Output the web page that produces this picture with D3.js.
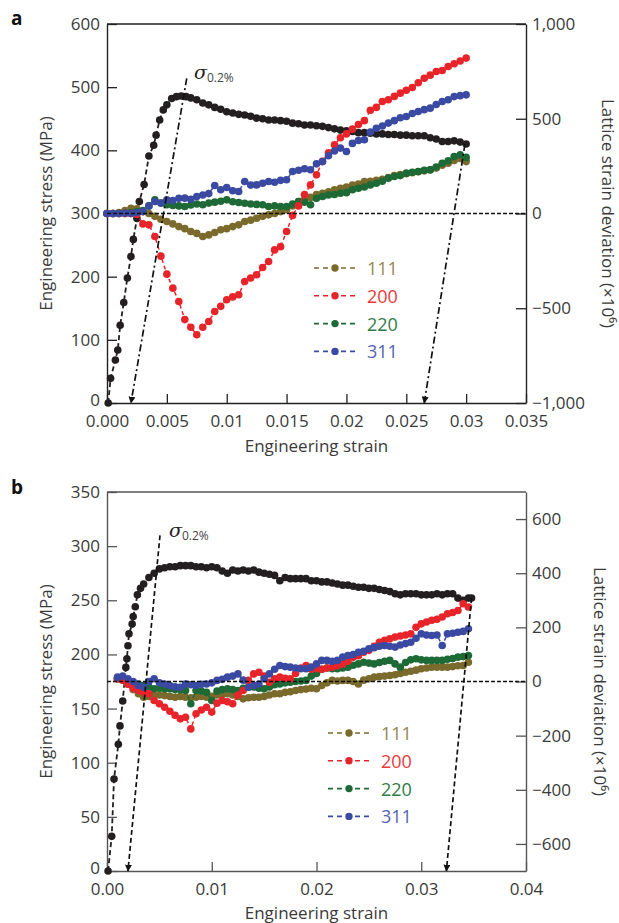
<!DOCTYPE html>
<html><head><meta charset="utf-8">
<script src="https://cdn.jsdelivr.net/npm/d3@7"></script>
<style>
body{margin:0;background:#fff}
svg{display:block}
text{font-family:"Open Sans",sans-serif}
</style>
</head><body>
<svg id="c" width="619" height="923"></svg>
<script>
// ---------- Panel a data ----------
const strainA = [0,.0005,.001,.0015,.002,.0025,.003,.0035,.004,.0045,.005,.0055,.006,.0065,.007,.0075,.008,.0085,.009,.0095,.01,.0105,.011,.0115,.012,.0125,.013,.0135,.014,.0145,.015,.0155,.016,.0165,.017,.0175,.018,.0185,.019,.0195,.02,.0205,.021,.0215,.022,.0225,.023,.0235,.024,.0245,.025,.0255,.026,.0265,.027,.0275,.028,.0285,.029,.0295,.03];
const a111 = [0,0,5,15,28,25,10,0,-15,-30,-42,-55,-69,-80,-95,-105,-121,-113,-100,-86,-80,-69,-60,-42,-35,-25,-15,-7,0,10,20,40,63,75,85,100,107,115,125,133,140,150,155,169,170,175,180,190,200,205,210,215,220,225,230,240,255,265,280,290,274];
const a200 = [0,0,0,0,0,-5,-55,-60,-121,-225,-320,-394,-464,-560,-600,-640,-600,-570,-517,-490,-455,-440,-429,-359,-340,-323,-285,-253,-192,-175,-95,-10,40,100,151,204,275,320,363,400,420,445,470,490,545,560,591,600,618,635,650,665,690,714,730,749,755,776,790,805,820];
const a220 = [0,0,0,0,5,10,15,40,72,55,46,42,40,37,45,50,46,55,60,65,72,62,58,54,50,48,46,37,40,37,37,50,63,60,46,80,90,98,100,107,110,125,133,140,151,160,170,186,195,200,213,218,222,228,231,245,265,278,301,310,296];
const a311 = [0,0,0,2,0,5,10,40,63,55,72,68,80,81,75,90,98,105,148,125,137,120,116,169,150,151,160,169,165,175,178,222,228,236,231,262,274,305,330,345,327,370,385,389,430,450,462,477,490,505,512,528,538,548,556,575,591,600,617,622,626];
const stressStrainA = [0.0001,0.0003,0.0007,0.0009,0.0011,0.0014,0.0017,0.002,0.0022,0.0025,0.0027,0.0031,0.0035,0.0039,0.0041,0.0044,0.0047,0.005,0.0054,0.0058,0.0062,0.0066,0.007,0.0075,0.008,0.0085,0.009,0.0095,0.01,0.0105,0.011,0.0115,0.012,0.0125,0.013,0.0135,0.014,0.0145,0.015,0.0155,0.016,0.0165,0.017,0.0175,0.018,0.0185,0.019,0.0195,0.02,0.0205,0.021,0.0215,0.022,0.0225,0.023,0.0235,0.024,0.0245,0.025,0.0255,0.026,0.0265,0.027,0.0275,0.028,0.0285,0.029,0.0295,0.03];
const stressA = [0,39,68,84,123,159,198,232,259,292,319,346,391,408,424,448,464,472,482,485,486,485,483,480,475,472,468,465,461,459,457,456,454,451,450,448,448,447,446,443,442,440,440,439,438,436,434,432,431,430,428,428,427,426,426,425,425,424,424,423,423,423,420,418,414,414,415,413,410];
const offsetLineA = [[0.00666,514],[0.002,0]];
const unloadLineA = [[0.0299,410],[0.0265,0]];
const xTicksA = [0,0.005,0.01,0.015,0.02,0.025,0.03,0.035];
const xLabelsA = ["0.000","0.005","0.01","0.015","0.02","0.025","0.03","0.035"];
const yTicksA = [0,100,200,300,400,500,600];
const yRTicksA = [-1000,-500,0,500,1000];
const yRLabelsA = ["\u22121,000","\u2212500","0","500","1,000"];

// ---------- Panel b data ----------
const strainB = [.001,.0015,.002,.0025,.003,.0035,.004,.0045,.005,.0055,.006,.0065,.007,.0075,.008,.0085,.009,.0095,.01,.0105,.011,.0115,.012,.0125,.013,.0135,.014,.0145,.015,.0155,.016,.0165,.017,.0175,.018,.0185,.019,.0195,.02,.0205,.021,.0215,.022,.0225,.023,.0235,.024,.0245,.025,.0255,.026,.0265,.027,.0275,.028,.0285,.029,.0295,.03,.0305,.031,.0315,.032,.0325,.033,.0335,.034,.0345];
const b111 = [10,5,-10,-30,-45,-58,-55,-52,-50,-52,-55,-58,-55,-58,-60,-58,-55,-58,-55,-50,-48,-45,-50,-55,-64,-60,-58,-58,-55,-50,-45,-45,-40,-38,-33,-30,-28,-25,-27,-15,-5,4,2,4,4,0,-9,5,10,16,18,20,22,25,30,34,38,42,47,50,53,53,53,53,55,58,59,71];
const b200 = [10,5,-10,-25,-33,-40,-45,-70,-82,-95,-110,-125,-138,-132,-175,-119,-105,-95,-113,-80,-70,-75,-82,-50,-33,4,28,34,20,-3,10,16,12,10,30,50,59,45,47,45,50,53,58,65,75,90,95,108,115,130,145,152,158,164,168,172,176,200,213,220,226,230,238,250,255,262,287,275];
const b220 = [10,15,5,-5,-9,-15,-20,-27,-25,-27,-27,-30,-30,-33,-82,-33,-35,-40,-70,-35,-30,-27,-30,-33,-25,-21,-20,-25,-27,-20,-12,-9,-5,-3,0,2,4,20,30,45,50,47,47,50,53,60,65,71,68,65,70,75,78,65,53,70,80,84,80,78,78,78,78,82,85,90,92,96];
const b311 = [16,20,10,0,-15,-21,0,10,-5,-9,-15,-20,-21,-9,-12,-15,-10,-9,-5,4,8,16,20,28,5,-21,-15,-9,10,28,45,59,55,53,50,47,47,53,65,78,78,75,78,90,96,100,108,112,121,125,130,133,130,127,135,140,145,160,176,172,170,172,133,176,178,182,185,195];
const stressStrainB = [0.0001,0.00045,0.00067,0.00108,0.00124,0.0015,0.0018,0.0019,0.002,0.0021,0.0024,0.0025,0.0027,0.0029,0.0032,0.0035,0.004,0.0045,0.005,0.0055,0.006,0.0065,0.007,0.0075,0.008,0.0085,0.009,0.0095,0.01,0.0105,0.011,0.0115,0.012,0.0125,0.013,0.0135,0.014,0.0145,0.015,0.0155,0.016,0.0165,0.017,0.0175,0.018,0.0185,0.019,0.0195,0.02,0.0205,0.021,0.0215,0.022,0.0225,0.023,0.0235,0.024,0.0245,0.025,0.0255,0.026,0.0265,0.027,0.0275,0.028,0.0285,0.029,0.0295,0.03,0.0305,0.031,0.0315,0.032,0.0325,0.033,0.0335,0.034,0.0345,0.0348];
const stressB = [0,32,85,117,134,157,188,196,208,219,228,235,244,255,261,265,271,275,279,280,281,281,282,282,282,281,281,280,281,280,277,275,278,277,278,277,278,276,275,274,273,268,271,270,270,270,270,268,268,267,267,266,265,264,264,263,262,262,261,261,260,259,258,256,255,256,256,256,255,255,255,256,255,256,256,252,250,252,252];
const offsetLineB = [[0.00506,310],[0.002,0]];
const unloadLineB = [[0.0348,252],[0.0324,0]];
const xTicksB = [0,0.01,0.02,0.03,0.04];
const xLabelsB = ["0.00","0.01","0.02","0.03","0.04"];
const yTicksB = [0,50,100,150,200,250,300,350];
const yRTicksB = [-600,-400,-200,0,200,400,600];
const yRLabelsB = ["\u2212600","\u2212400","\u2212200","0","200","400","600"];

// ---------- Legend / styling ----------
const seriesNames = ["111","200","220","311"];
const dotColors = {"111":"#7a6a2c","200":"#e8242b","220":"#1d6a36","311":"#3a4aa2"};
const textColors = {"111":"#958754","200":"#ec3a3a","220":"#2f7c47","311":"#5563b5"};
const blackColor = "#231f20";

const svg = d3.select("#c");
const defs = svg.append("defs");
defs.append("marker").attr("id","arr").attr("viewBox","0 0 10 10").attr("refX",9).attr("refY",5)
  .attr("markerWidth",7).attr("markerHeight",7).attr("markerUnits","userSpaceOnUse").attr("orient","auto")
  .append("path").attr("d","M0,0L10,5L0,10Z").attr("fill","#111");

function panel(o){
  const L=107,R=526;
  const g = svg.append("g");
  const x = d3.scaleLinear().domain(o.xDomain).range([L,R]);
  const yL = d3.scaleLinear().domain(o.yLDomain).range([o.bottom,o.top]);
  const yR = d3.scaleLinear().domain(o.yRDomain).range([o.bottom,o.top]);
  const axisColor = o.axisColor;

  // axes
  const ax = g.append("g").attr("transform",`translate(0,${o.bottom})`)
    .call(d3.axisBottom(x).tickValues(o.xTicks).tickFormat((d,i)=>o.xLabels[i]).tickSizeInner(-9).tickSizeOuter(0).tickPadding(12));
  const ayl = g.append("g").attr("transform",`translate(${L},0)`)
    .call(d3.axisLeft(yL).tickValues(o.yTicks).tickFormat(d3.format("d")).tickSizeInner(-10).tickSizeOuter(0).tickPadding(7));
  const ayr = g.append("g").attr("transform",`translate(${R},0)`)
    .call(d3.axisRight(yR).tickValues(o.yRTicks).tickFormat((d,i)=>o.yRLabels[i]).tickSizeInner(-10).tickSizeOuter(0).tickPadding(6));
  [ax,ayl,ayr].forEach(a=>{
    a.selectAll("path.domain").attr("stroke",axisColor).attr("stroke-width",1.4);
    a.selectAll(".tick line").attr("stroke",axisColor).attr("stroke-width",1.3);
    a.selectAll(".tick text").attr("fill","#3a3a3a").style("font-size","17px").style("font-family","'Open Sans',sans-serif");
  });
  ayl.selectAll(".tick text").filter(d=>d===0).attr("dy","0.12em");
  g.append("line").attr("x1",L).attr("x2",R).attr("y1",o.top).attr("y2",o.top).attr("stroke",axisColor).attr("stroke-width",1.4);

  // axis titles
  g.append("text").attr("transform",`translate(45,${(o.top+o.bottom)/2}) rotate(-90)`)
    .attr("text-anchor","middle").attr("dominant-baseline","central").attr("fill","#3a3a3a").style("font-size","17px")
    .text("Engineering stress (MPa)");
  g.append("text").attr("transform",`translate(${o.rTitleX},${(o.top+o.bottom)/2}) rotate(90)`)
    .attr("text-anchor","middle").attr("dominant-baseline","central").attr("fill","#3a3a3a").style("font-size","17px")
    .text("Lattice strain deviation (\u00d710\u2076)");
  g.append("text").attr("x",(L+R)/2).attr("y",o.xTitleY).attr("text-anchor","middle").attr("fill","#3a3a3a").style("font-size","17px")
    .text("Engineering strain");
  g.append("text").attr("x",11).attr("y",o.labelY).attr("fill","#111").style("font-size","19px").style("font-weight","bold")
    .text(o.label);

  const lineR = d3.line().x(d=>x(d[0])).y(d=>yR(d[1]));
  const lineL = d3.line().x(d=>x(d[0])).y(d=>yL(d[1]));
  const rad = 3.8;

  // stress-strain curve
  const ss = o.stressStrain.map((s,i)=>[s,o.stress[i]]);
  g.append("path").attr("d",lineL(ss)).attr("fill","none").attr("stroke",blackColor).attr("stroke-width",1.8).attr("stroke-dasharray","5,3");
  g.append("g").selectAll("circle").data(ss).join("circle")
    .attr("cx",d=>x(d[0])).attr("cy",d=>yL(d[1])).attr("r",rad).attr("fill",blackColor);

  // lattice strain series
  o.order.forEach(name=>{
    const pts = o.strain.map((s,i)=>[s,o.series[name][i]]);
    g.append("path").attr("d",lineR(pts)).attr("fill","none").attr("stroke",dotColors[name]).attr("stroke-width",1.5).attr("stroke-dasharray","4,3");
    g.append("g").selectAll("circle").data(pts).join("circle")
      .attr("cx",d=>x(d[0])).attr("cy",d=>yR(d[1])).attr("r",rad).attr("fill",dotColors[name]);
  });

  // zero line
  g.append("line").attr("x1",L).attr("x2",R).attr("y1",yR(0)).attr("y2",yR(0))
    .attr("stroke","#111").attr("stroke-width",1.6).attr("stroke-dasharray",o.zeroDash);

  // offset & unload lines
  [o.offsetLine,o.unloadLine].forEach(l=>{
    g.append("line").attr("x1",x(l[0][0])).attr("y1",yL(l[0][1])).attr("x2",x(l[1][0])).attr("y2",yL(l[1][1]))
      .attr("stroke","#111").attr("stroke-width",1.7).attr("stroke-dasharray",o.offsetDash).attr("marker-end","url(#arr)");
  });

  // sigma label
  const sg = g.append("text").attr("x",o.sigmaX).attr("y",o.sigmaY).attr("fill","#222");
  sg.append("tspan").text("\u03c3").style("font-family","'DejaVu Serif',serif").style("font-style","italic").style("font-size","19px");
  sg.append("tspan").attr("dy",3).text("0.2%").style("font-size","12px").attr("fill","#444");

  // legend
  seriesNames.forEach((name,i)=>{
    const yy = o.legY + i*o.legGap;
    g.append("line").attr("x1",o.legX).attr("x2",o.legX+42).attr("y1",yy).attr("y2",yy)
      .attr("stroke",dotColors[name]).attr("stroke-width",1.6).attr("stroke-dasharray","5,4");
    g.append("circle").attr("cx",o.legX+21).attr("cy",yy).attr("r",3.7).attr("fill",dotColors[name]);
    g.append("text").attr("x",o.legX+53).attr("y",yy).attr("dominant-baseline","central").attr("fill",textColors[name])
      .style("font-size","18px").text(name);
  });
}

panel({
  label:"a", labelY:25, top:24, bottom:403, xDomain:[0,0.035], yLDomain:[0,600], yRDomain:[-1000,1000],
  xTicks:xTicksA, xLabels:xLabelsA, yTicks:yTicksA, yRTicks:yRTicksA, yRLabels:yRLabelsA,
  axisColor:"#222", rTitleX:608, xTitleY:452,
  strain:strainA, series:{"111":a111,"200":a200,"220":a220,"311":a311}, order:["111","220","200","311"],
  stressStrain:stressStrainA, stress:stressA, offsetLine:offsetLineA, unloadLine:unloadLineA,
  zeroDash:"4,2", offsetDash:"7,3,2,3", sigmaX:194, sigmaY:79, legX:314, legY:268, legGap:27.8
});
panel({
  label:"b", labelY:494, top:492, bottom:871, xDomain:[0,0.04], yLDomain:[0,350], yRDomain:[-700,700],
  xTicks:xTicksB, xLabels:xLabelsB, yTicks:yTicksB, yRTicks:yRTicksB, yRLabels:yRLabelsB,
  axisColor:"#555", rTitleX:600, xTitleY:919,
  strain:strainB, series:{"111":b111,"200":b200,"220":b220,"311":b311}, order:["111","220","200","311"],
  stressStrain:stressStrainB, stress:stressB, offsetLine:offsetLineB, unloadLine:unloadLineB,
  zeroDash:"4,2", offsetDash:"5,3", sigmaX:169, sigmaY:537, legX:328, legY:733, legGap:27.8
});
</script>
</body></html>
